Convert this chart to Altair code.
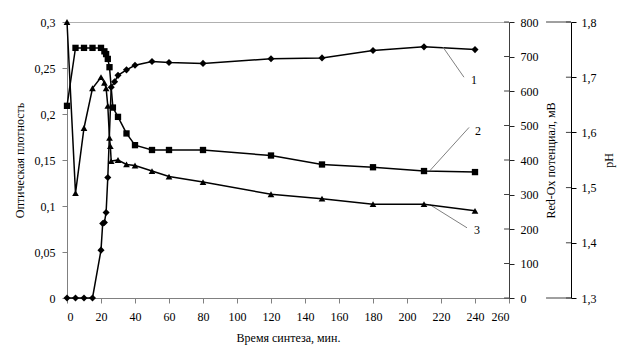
import altair as alt
import pandas as pd

# Series 1 (diamonds) - optical density
minutes_1 = [0, 5, 10, 15, 20, 21, 22, 23, 24, 26, 28, 30, 35, 40, 50, 60, 80, 120, 150, 180, 210, 240]
density = [0, 0, 0, 0, 0.052, 0.081, 0.082, 0.093, 0.131, 0.229, 0.235, 0.242, 0.248, 0.253,
           0.257, 0.256, 0.255, 0.260, 0.261, 0.269, 0.273, 0.270]

# Series 2 (squares) - Red-Ox potential, mV
minutes_2 = [0, 5, 10, 15, 20, 22, 23, 24, 25, 27, 30, 35, 40, 50, 60, 80, 120, 150, 180, 210, 240]
redox_mv = [557, 725, 725, 725, 725, 715, 707, 693, 669, 552, 525, 477, 443, 429, 429, 429,
            413, 387, 379, 368, 365]

# Series 3 (triangles) - pH
minutes_3 = [0, 5, 10, 15, 20, 22, 23, 24, 25, 25.5, 26, 30, 35, 40, 50, 60, 80, 120, 150, 180, 210, 240]
ph = [1.80, 1.49, 1.608, 1.68, 1.70, 1.69, 1.68, 1.648, 1.59, 1.575, 1.548, 1.55, 1.542, 1.54,
      1.53, 1.52, 1.51, 1.488, 1.48, 1.47, 1.47, 1.458]

x_ticks = list(range(0, 261, 20))
density_ticks = [0, 0.05, 0.1, 0.15, 0.2, 0.25, 0.3]
redox_ticks = list(range(0, 801, 100))
ph_ticks = [1.3, 1.4, 1.5, 1.6, 1.7, 1.8]
ph_ends = [1.3, 1.8]

# Curve labels with leader lines (in minutes / optical-density units)
label_ids = ["1", "2", "3"]
label_x = [239.4, 241.8, 241.2]
label_y = [0.2366, 0.182, 0.0742]
leader_x1 = [221.2, 213.5, 213.5]
leader_y1 = [0.2726, 0.1385, 0.1014]
leader_x2 = [233.5, 236.5, 235.3]
leader_y2 = [0.240, 0.1854, 0.0763]

# Decorative axis pieces, in minutes (x-scale units)
redox_tick_in = [257.1, 260.0]
ph_stub = [281.8, 296.5]
ph_tick_in = [293.5, 296.5]

FONT = "Liberation Serif"
FK = dict(labelFont=FONT, titleFont=FONT, labelFontSize=12, titleFontSize=12,
          labelColor="black", titleColor="black", titleFontWeight="normal", grid=False)

df1 = pd.DataFrame({"t": minutes_1, "v": density})
df2 = pd.DataFrame({"t": minutes_2, "v": redox_mv})
df3 = pd.DataFrame({"t": minutes_3, "v": ph})
ann = pd.DataFrame({"id": label_ids, "lx": label_x, "ly": label_y,
                    "x1": leader_x1, "y1": leader_y1, "x2": leader_x2, "y2": leader_y2})

# axis decorations: expressed on the density scale through calculate transforms
deco = pd.concat([
    pd.DataFrame({"kind": "redox", "val": redox_ticks, "x1": redox_tick_in[0], "x2": redox_tick_in[1]}),
    pd.DataFrame({"kind": "ph", "val": ph_ticks, "x1": ph_tick_in[0], "x2": ph_tick_in[1]}),
    pd.DataFrame({"kind": "ph", "val": ph_ends, "x1": ph_stub[0], "x2": ph_stub[1]}),
], ignore_index=True)

W, H = 442, 276

xscale = alt.Scale(domain=[0, 260], nice=False, zero=False)
xaxis = alt.Axis(values=x_ticks, title="Время синтеза, мин.", tickSize=5, labelPadding=8,
                 titlePadding=10, domainColor="#808080", tickColor="#808080", **FK)

s1 = alt.Scale(domain=[0, 0.3], nice=False, zero=False)
s2 = alt.Scale(domain=[0, 800], nice=False, zero=False)
s3 = alt.Scale(domain=[1.3, 1.8], nice=False, zero=False)

ax1 = alt.Axis(orient="left", values=density_ticks, title="Оптическая плотность",
               labelExpr="replace(format(datum.value, '.2~f'), '.', ',')",
               tickSize=5, labelPadding=7, titlePadding=8, domainColor="#808080",
               tickColor="#808080", **FK)
ax2 = alt.Axis(orient="right", values=redox_ticks, title="Red-Ox потенциал, мВ",
               tickSize=5, labelPadding=6, titlePadding=19, titleAngle=270,
               domainColor="#404040", tickColor="#202020", **FK)
ax3 = alt.Axis(orient="right", offset=62, values=ph_ticks, title="pH",
               labelExpr="replace(format(datum.value, '.1f'), '.', ',')",
               tickSize=5, labelPadding=5, titlePadding=19, titleAngle=270,
               domainColor="black", tickColor="black", **FK)

line_kw = dict(color="black", strokeWidth=1.5)

def X(field):
    return alt.X(field, scale=xscale, axis=xaxis)

l1 = alt.Chart(df1).mark_line(**line_kw).encode(x=X("t:Q"), y=alt.Y("v:Q", scale=s1, axis=ax1))
p1 = alt.Chart(df1).mark_point(filled=True, shape="diamond", size=50, color="black", opacity=1).encode(
    x=X("t:Q"), y=alt.Y("v:Q", scale=s1, axis=ax1))
r1 = alt.Chart(ann).mark_rule(color="#808080", strokeWidth=1).encode(
    x=X("x1:Q"), x2="x2:Q",
    y=alt.Y("y1:Q", scale=s1, axis=ax1), y2="y2:Q")
t1 = alt.Chart(ann).mark_text(font=FONT, fontSize=12, color="black").encode(
    x=X("lx:Q"), y=alt.Y("ly:Q", scale=s1, axis=ax1), text="id:N")
d1 = alt.Chart(deco).transform_calculate(
    y1="datum.kind == 'redox' ? datum.val / 800 * 0.3 : (datum.val - 1.3) / 0.5 * 0.3"
).transform_calculate(y2="datum.y1").mark_rule(color="#404040", strokeWidth=1).encode(
    x=X("x1:Q"), x2="x2:Q",
    y=alt.Y("y1:Q", scale=s1, axis=ax1), y2="y2:Q")
g1 = alt.layer(l1, p1, r1, t1, d1)

l2 = alt.Chart(df2).mark_line(**line_kw).encode(x=X("t:Q"), y=alt.Y("v:Q", scale=s2, axis=ax2))
p2 = alt.Chart(df2).mark_point(filled=True, shape="square", size=40, color="black", opacity=1).encode(
    x=X("t:Q"), y=alt.Y("v:Q", scale=s2, axis=ax2))
g2 = alt.layer(l2, p2)

l3 = alt.Chart(df3).mark_line(**line_kw).encode(x=X("t:Q"), y=alt.Y("v:Q", scale=s3, axis=ax3))
p3 = alt.Chart(df3).mark_point(filled=True, shape="triangle-up", size=45, color="black", opacity=1).encode(
    x=X("t:Q"), y=alt.Y("v:Q", scale=s3, axis=ax3))
g3 = alt.layer(l3, p3)

chart = alt.layer(g1, g2, g3).resolve_scale(y="independent").properties(
    width=W, height=H,
    autosize=alt.AutoSizeParams(type="none"),
    padding={"left": 59, "top": 14, "right": 120, "bottom": 52},
    background="white",
).configure_view(stroke="#b0b0b0", strokeWidth=1).configure_axis(
    labelFont=FONT, titleFont=FONT, labelFontSize=12, titleFontSize=12,
    labelColor="black", titleColor="black", titleFontWeight="normal",
)

chart.save("out.html", embed_options={"renderer": "svg", "actions": False})
